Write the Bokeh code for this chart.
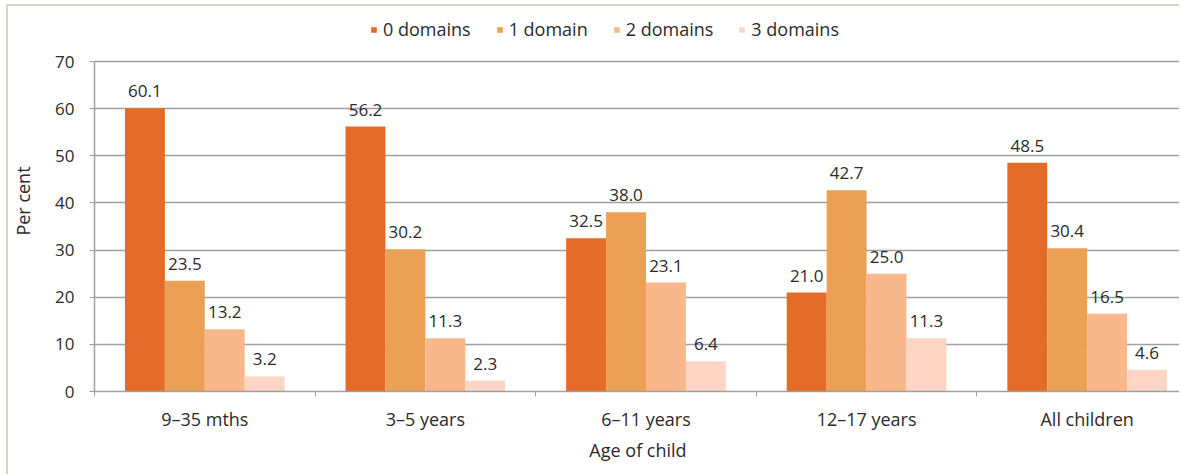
from bokeh.plotting import figure
from bokeh.models import Range1d, FixedTicker, Legend, LegendItem, ColumnDataSource, LabelSet
from bokeh.core.properties import value
from bokeh.embed import file_html
from bokeh.resources import INLINE

categories = ["9\u201335 mths", "3\u20135 years", "6\u201311 years", "12\u201317 years", "All children"]
series_names = ["0 domains", "1 domain", "2 domains", "3 domains"]
d0 = [60.1, 56.2, 32.5, 21.0, 48.5]
d1 = [23.5, 30.2, 38.0, 42.7, 30.4]
d2 = [13.2, 11.3, 23.1, 25.0, 16.5]
d3 = [3.2, 2.3, 6.4, 11.3, 4.6]
series = [d0, d1, d2, d3]
colors = ["#E46C28", "#ECA055", "#F8B88C", "#FDD5C4"]
y_ticks = [0, 10, 20, 30, 40, 50, 60, 70]
y_max = 70

FONT = "Open Sans"
FS = "17px"
FSW = "18px"
TXT = "#2A2A2A"
GRID = "#A0A0A0"
OFFX, OFFY = 8, 6          # css margin + border in front of the canvas
W, H = 1181 - OFFX, 476 - OFFY
left = 92 - OFFX
top = 10 - OFFY
bottom = 476 - 391
frame_w = W - left
frame_h = H - top - bottom
px_per_cat = 221.0
px_per_unit = 330.0 / y_max
bar_w = 40.0 / px_per_cat

p = figure(width=W, height=H, output_backend="svg", toolbar_location=None,
           x_range=Range1d(0, frame_w / px_per_cat),
           y_range=Range1d(0, frame_h / px_per_unit),
           min_border_left=left, min_border_right=0, min_border_top=top,
           min_border_bottom=bottom)
p.styles = {"margin-left": "6px", "margin-top": "4px",
            "border-left": "2px solid #DAD3C3", "border-top": "2px solid #DAD3C3"}
p.outline_line_color = None
p.background_fill_color = "white"
p.border_fill_color = "white"

centers = [i + 0.5 for i in range(len(categories))]
items = []
for k, (name, vals, col) in enumerate(zip(series_names, series, colors)):
    xs = [c + (k - 1.5) * bar_w for c in centers]
    src = ColumnDataSource(dict(x=xs, top=vals, lab=["%.1f" % v for v in vals]))
    r = p.vbar(x="x", top="top", width=bar_w, source=src, fill_color=col, line_color=None)
    items.append(LegendItem(label=name, renderers=[r]))
    lbl = LabelSet(x="x", y="top", text="lab", source=src, text_align="center",
                   text_baseline="bottom", y_offset=11, text_font=value(FONT),
                   text_font_size=value(FS), text_color=TXT)
    p.add_layout(lbl)

p.yaxis.ticker = FixedTicker(ticks=y_ticks)
p.yaxis.bounds = (0, y_max)
p.ygrid.ticker = FixedTicker(ticks=y_ticks)
p.ygrid.grid_line_color = GRID
p.ygrid.grid_line_width = 1.5
p.xgrid.grid_line_color = None
p.yaxis.axis_line_color = GRID
p.yaxis.axis_line_width = 1.5
p.yaxis.major_tick_line_color = GRID
p.yaxis.major_tick_out = 5
p.yaxis.major_tick_in = 0
p.yaxis.minor_tick_line_color = None
p.yaxis.major_label_text_font = FONT
p.yaxis.major_label_text_font_size = FS
p.yaxis.major_label_text_color = TXT
p.yaxis.major_label_standoff = 15
p.yaxis.axis_label = "Per cent"
p.yaxis.axis_label_text_font = FONT
p.yaxis.axis_label_text_font_size = FSW
p.yaxis.axis_label_text_font_style = "normal"
p.yaxis.axis_label_text_color = TXT
p.yaxis.axis_label_standoff = 17

p.xaxis.ticker = FixedTicker(ticks=centers, minor_ticks=list(range(len(categories) + 1)))
p.xaxis.major_label_overrides = {c: cat for c, cat in zip(centers, categories)}
p.xaxis.major_tick_line_color = None
p.xaxis.minor_tick_line_color = GRID
p.xaxis.minor_tick_out = 5
p.xaxis.minor_tick_in = 0
p.xaxis.axis_line_color = GRID
p.xaxis.axis_line_width = 1.5
p.xaxis.major_label_text_font = FONT
p.xaxis.major_label_text_font_size = FSW
p.xaxis.major_label_text_color = TXT
p.xaxis.major_label_standoff = 9
p.xaxis.axis_label = "Age of child"
p.xaxis.axis_label_text_font = FONT
p.xaxis.axis_label_text_font_size = FSW
p.xaxis.axis_label_text_font_style = "normal"
p.xaxis.axis_label_text_color = TXT
p.xaxis.axis_label_standoff = 4

legend = Legend(items=items, orientation="horizontal", location=(276, 350),
                label_text_font=FONT, label_text_font_size=FSW, label_text_color=TXT,
                glyph_width=7, glyph_height=7, spacing=25, label_standoff=6,
                border_line_color=None, background_fill_alpha=0, padding=0, margin=0)
p.add_layout(legend)

open("out.html", "w").write(file_html(p, INLINE))
